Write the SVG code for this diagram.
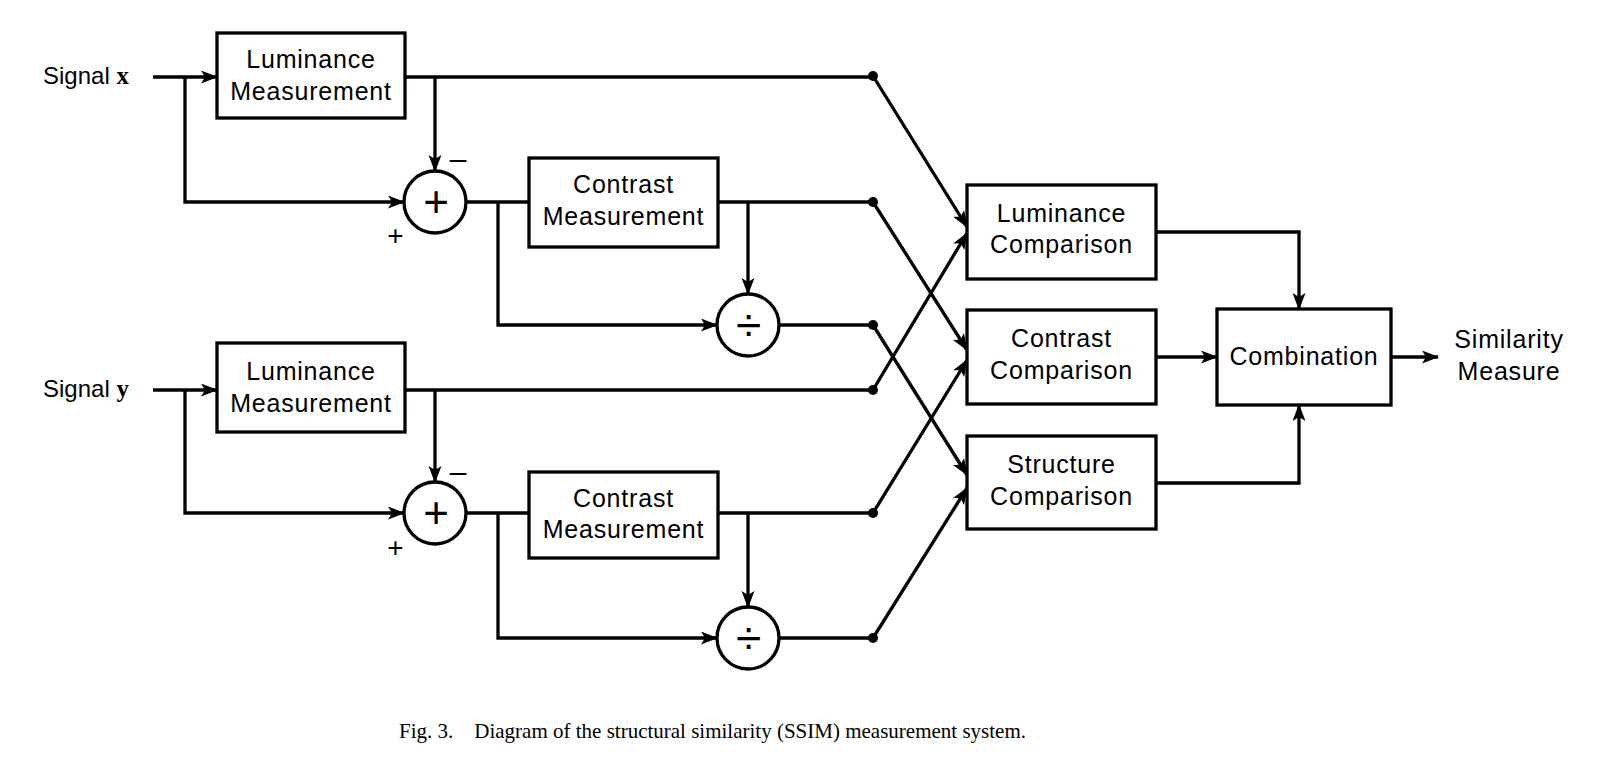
<svg xmlns="http://www.w3.org/2000/svg" width="1608" height="762" viewBox="0 0 1608 762">
<style>
.box{fill:#fff;stroke:#000;stroke-width:3.3}
.circ{fill:#fff;stroke:#000;stroke-width:3.3}
.lbl{font-family:"Liberation Sans",Arial,sans-serif;font-size:25px;letter-spacing:0.8px;fill:#000;text-anchor:middle}
.sig{font-family:"Liberation Sans",Arial,sans-serif;font-size:24px;fill:#000}
.var{font-family:"Liberation Serif","Times New Roman",serif;font-weight:bold;font-size:25px}
.op{font-family:"Liberation Sans",Arial,sans-serif;fill:#000;text-anchor:middle}
.cap{font-family:"Liberation Serif","Times New Roman",serif;font-size:21px;fill:#000}
.wire{fill:none;stroke:#000;stroke-width:3.3;stroke-linejoin:miter}
.arr{marker-end:url(#ah)}
</style>
<defs>
<marker id="ah" markerUnits="userSpaceOnUse" markerWidth="18" markerHeight="14" refX="16" refY="6.5" orient="auto">
<path d="M0,0 L17,6.5 L0,13 L4,6.5 Z" fill="#000"/>
</marker>
</defs>
<rect width="1608" height="762" fill="#fff"/>

<g id="connectors">
<path class="wire arr" d="M153,77 H217"/>
<path class="wire arr" d="M185,77 V202 H404"/>
<path class="wire" d="M405,77 H873"/>
<path class="wire arr" d="M435,77 V171"/>
<path class="wire" d="M467,202 H529"/>
<path class="wire arr" d="M498,202 V325 H717"/>
<path class="wire" d="M718,202 H873"/>
<path class="wire arr" d="M748,202 V294"/>
<path class="wire" d="M779,325 H873"/>

<path class="wire arr" d="M153,390 H217"/>
<path class="wire arr" d="M185,390 V513 H404"/>
<path class="wire" d="M405,390 H873"/>
<path class="wire arr" d="M435,390 V482"/>
<path class="wire" d="M467,513 H529"/>
<path class="wire arr" d="M498,513 V638 H717"/>
<path class="wire" d="M718,513 H873"/>
<path class="wire arr" d="M748,513 V607"/>
<path class="wire" d="M779,638 H873"/>

<path class="wire arr" d="M873,76 L967,227"/>
<path class="wire arr" d="M873,202 L967,350"/>
<path class="wire arr" d="M873,325 L967,475"/>
<path class="wire arr" d="M873,390 L967,233"/>
<path class="wire arr" d="M873,513 L967,360"/>
<path class="wire arr" d="M873,638 L967,488"/>

<path class="wire arr" d="M1156,232 H1299 V309"/>
<path class="wire arr" d="M1156,357 H1217"/>
<path class="wire arr" d="M1156,483 H1299 V405"/>
<path class="wire arr" d="M1391,357 H1438"/>

<circle cx="873" cy="76" r="5"/>
<circle cx="873" cy="202" r="5"/>
<circle cx="873" cy="325" r="5"/>
<circle cx="873" cy="390" r="5"/>
<circle cx="873" cy="513" r="5"/>
<circle cx="873" cy="638" r="5"/>
</g>

<g id="signal-x"><text class="sig" x="43" y="84">Signal <tspan class="var">x</tspan></text></g>
<g id="signal-y"><text class="sig" x="43" y="397">Signal <tspan class="var">y</tspan></text></g>

<g id="lum-x">
<rect class="box" x="217" y="33" width="188" height="85"/>
<text class="lbl" x="311" y="68">Luminance</text>
<text class="lbl" x="311" y="100">Measurement</text>
</g>
<g id="sum-x">
<circle class="circ" cx="435" cy="202" r="31"/>
<text class="op" x="436" y="217" font-size="44">+</text>
<text class="op" x="458" y="169" font-size="30">–</text>
<text class="op" x="395.5" y="245" font-size="28">+</text>
</g>
<g id="con-x">
<rect class="box" x="529" y="158" width="189" height="89"/>
<text class="lbl" x="623.5" y="193">Contrast</text>
<text class="lbl" x="623.5" y="225">Measurement</text>
</g>
<g id="div-x">
<circle class="circ" cx="748" cy="325" r="31"/>
<text class="op" x="748.5" y="341" font-size="46">÷</text>
</g>

<g id="lum-y">
<rect class="box" x="217" y="343" width="188" height="89"/>
<text class="lbl" x="311" y="380">Luminance</text>
<text class="lbl" x="311" y="412">Measurement</text>
</g>
<g id="sum-y">
<circle class="circ" cx="435" cy="513" r="31"/>
<text class="op" x="436" y="528" font-size="44">+</text>
<text class="op" x="458" y="482" font-size="30">–</text>
<text class="op" x="395.5" y="557" font-size="28">+</text>
</g>
<g id="con-y">
<rect class="box" x="529" y="472" width="189" height="86"/>
<text class="lbl" x="623.5" y="507">Contrast</text>
<text class="lbl" x="623.5" y="538">Measurement</text>
</g>
<g id="div-y">
<circle class="circ" cx="748" cy="638" r="31"/>
<text class="op" x="748.5" y="654" font-size="46">÷</text>
</g>

<g id="lum-cmp">
<rect class="box" x="967" y="185" width="189" height="94"/>
<text class="lbl" x="1061.5" y="222">Luminance</text>
<text class="lbl" x="1061.5" y="253">Comparison</text>
</g>
<g id="con-cmp">
<rect class="box" x="967" y="310" width="189" height="94"/>
<text class="lbl" x="1061.5" y="347">Contrast</text>
<text class="lbl" x="1061.5" y="379">Comparison</text>
</g>
<g id="str-cmp">
<rect class="box" x="967" y="436" width="189" height="93"/>
<text class="lbl" x="1061.5" y="473">Structure</text>
<text class="lbl" x="1061.5" y="505">Comparison</text>
</g>
<g id="combination">
<rect class="box" x="1217" y="309" width="174" height="96"/>
<text class="lbl" x="1304" y="365">Combination</text>
</g>
<g id="similarity">
<text class="lbl" x="1509" y="348">Similarity</text>
<text class="lbl" x="1509" y="380">Measure</text>
</g>

<text class="cap" x="399" y="738" xml:space="preserve">Fig. 3.    Diagram of the structural similarity (SSIM) measurement system.</text>
</svg>
